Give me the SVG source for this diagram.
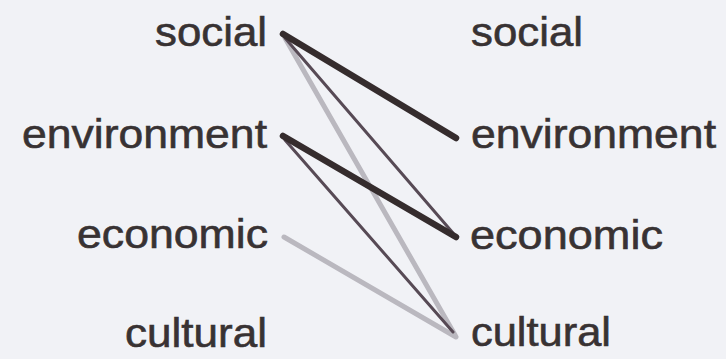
<svg xmlns="http://www.w3.org/2000/svg" width="726" height="359" viewBox="0 0 726 359">
<style>
.lbl{font-family:"Liberation Sans",Arial,sans-serif;font-size:41px;fill:#383233;stroke:#383233;stroke-width:0.6}
.thick{stroke:#352c2d;stroke-width:6.5;stroke-linecap:round;fill:none}
.thin{stroke:#574a55;stroke-width:3;stroke-linecap:round;fill:none}
.light{stroke:#bab8bf;stroke-width:5;stroke-linecap:round;fill:none}
</style>
<rect width="726" height="359" fill="#f1f2f6"/>
<g id="connectors">
<line class="light" x1="285" y1="38" x2="455" y2="335"/>
<line class="light" x1="284" y1="237" x2="456" y2="337"/>
<line class="thin" x1="285" y1="38" x2="453" y2="233"/>
<line class="thin" x1="285" y1="140" x2="453" y2="332"/>
<line class="thick" x1="283" y1="34" x2="456" y2="138"/>
<line class="thick" x1="283" y1="136" x2="456" y2="237"/>
</g>
<g id="left-social"><text class="lbl" x="155" y="46" textLength="112" lengthAdjust="spacingAndGlyphs">social</text></g>
<g id="left-environment"><text class="lbl" x="22" y="148" textLength="245" lengthAdjust="spacingAndGlyphs">environment</text></g>
<g id="left-economic"><text class="lbl" x="77" y="248" textLength="191" lengthAdjust="spacingAndGlyphs">economic</text></g>
<g id="left-cultural"><text class="lbl" x="125" y="347" textLength="142" lengthAdjust="spacingAndGlyphs">cultural</text></g>
<g id="right-social"><text class="lbl" x="471" y="46" textLength="112" lengthAdjust="spacingAndGlyphs">social</text></g>
<g id="right-environment"><text class="lbl" x="471" y="148" textLength="245" lengthAdjust="spacingAndGlyphs">environment</text></g>
<g id="right-economic"><text class="lbl" x="470" y="249" textLength="193" lengthAdjust="spacingAndGlyphs">economic</text></g>
<g id="right-cultural"><text class="lbl" x="471" y="346" textLength="140" lengthAdjust="spacingAndGlyphs">cultural</text></g>
</svg>
